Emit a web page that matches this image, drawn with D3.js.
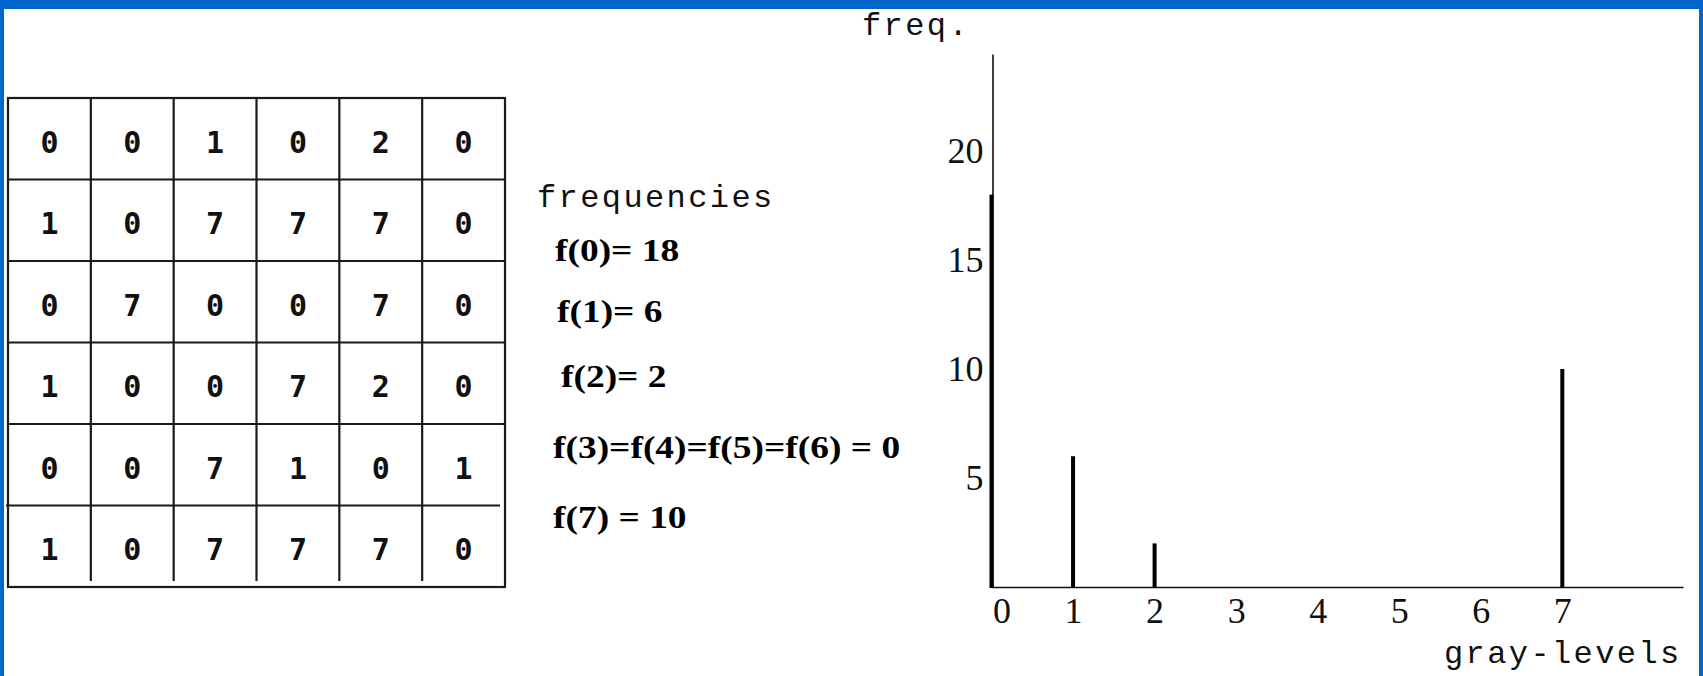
<!DOCTYPE html>
<html>
<head>
<meta charset="utf-8">
<script src="https://cdn.jsdelivr.net/npm/d3@7"></script>
<style>
  html, body { margin: 0; padding: 0; background: #fff; }
  svg { display: block; }
</style>
</head>
<body>
<svg id="slide" width="1703" height="676"></svg>
<script>
// 6x6 image, gray levels 0..7, one array per row
const imageRows = [
  [0, 0, 1, 0, 2, 0],
  [1, 0, 7, 7, 7, 0],
  [0, 7, 0, 0, 7, 0],
  [1, 0, 0, 7, 2, 0],
  [0, 0, 7, 1, 0, 1],
  [1, 0, 7, 7, 7, 0]
];

// histogram of the image
const grayLevels = [0, 1, 2, 3, 4, 5, 6, 7];
const frequencies = [18, 6, 2, 0, 0, 0, 0, 10];
const freqTicks = [5, 10, 15, 20];

const W = 1703, H = 676;
const svg = d3.select("#slide");

// slide frame
const frameBlue = "#0066cc";
svg.append("rect").attr("x", 0).attr("y", 0).attr("width", W).attr("height", H).attr("fill", "#fff");
svg.append("rect").attr("x", 0).attr("y", 0).attr("width", W).attr("height", 9).attr("fill", frameBlue);
svg.append("rect").attr("x", 0).attr("y", 0).attr("width", 4).attr("height", H).attr("fill", frameBlue);
svg.append("rect").attr("x", W - 4).attr("y", 0).attr("width", 4).attr("height", H).attr("fill", frameBlue);

// ---------- pixel grid ----------
const nCols = imageRows[0].length, nRows = imageRows.length;
const gx = d3.scaleBand().domain(d3.range(nCols)).range([8, 505]);
const gy = d3.scaleBand().domain(d3.range(nRows)).range([98, 587]);
const grid = svg.append("g").attr("stroke", "#1a1a1a").attr("stroke-width", 2.2);

// vertical separators
grid.selectAll("line.v").data(d3.range(1, nCols)).join("line")
  .attr("class", "v")
  .attr("x1", d => gx(d)).attr("x2", d => gx(d))
  .attr("y1", gy.range()[0]).attr("y2", gy.range()[1] - 6);
// horizontal separators
grid.selectAll("line.h").data(d3.range(1, nRows)).join("line")
  .attr("class", "h")
  .attr("x1", d => d === nRows - 1 ? 6 : gx.range()[0])
  .attr("x2", d => d === nRows - 1 ? 500 : gx.range()[1])
  .attr("y1", d => gy(d)).attr("y2", d => gy(d));
// outer border
grid.append("rect")
  .attr("x", gx.range()[0]).attr("y", gy.range()[0])
  .attr("width", gx.range()[1] - gx.range()[0])
  .attr("height", gy.range()[1] - gy.range()[0])
  .attr("fill", "none");

const cells = imageRows.flatMap((row, r) => row.map((v, c) => ({ r, c, v })));
svg.append("g").selectAll("text").data(cells).join("text")
  .attr("x", d => gx(d.c) + gx.bandwidth() / 2)
  .attr("y", d => gy(d.r) + gy.bandwidth() / 2 + 14)
  .attr("text-anchor", "middle")
  .attr("font-family", "'DejaVu Sans Mono', monospace")
  .attr("font-weight", "bold")
  .attr("font-size", 30)
  .attr("fill", "#111")
  .text(d => d.v);

// ---------- frequency list ----------
svg.append("text")
  .attr("x", 537).attr("y", 207)
  .attr("font-family", "'Liberation Mono', monospace")
  .attr("font-size", 32)
  .attr("letter-spacing", 2.4)
  .attr("fill", "#111")
  .text("frequencies");

const freqLines = [
  { x: 555, y: 261, text: `f(0)= ${frequencies[0]}` },
  { x: 557, y: 322, text: `f(1)= ${frequencies[1]}` },
  { x: 561, y: 387, text: `f(2)= ${frequencies[2]}` },
  { x: 553, y: 458, text: `f(3)=f(4)=f(5)=f(6) = ${frequencies[3]}` },
  { x: 553, y: 528, text: `f(7) = ${frequencies[7]}` }
];
svg.append("g").selectAll("text").data(freqLines).join("text")
  .attr("transform", d => `translate(${d.x},${d.y}) scale(1.17,1)`)
  .attr("font-family", "'Liberation Serif', 'Times New Roman', serif")
  .attr("font-weight", "bold")
  .attr("font-size", 32)
  .attr("fill", "#000")
  .text(d => d.text);

// ---------- histogram ----------
const x = d3.scaleLinear().domain([0, 8.48]).range([991.5, 1683]);
const y = d3.scaleLinear().domain([0, 24.45]).range([587, 54]);

const serif = "'Liberation Serif', 'Times New Roman', serif";

const yAxis = svg.append("g")
  .attr("transform", `translate(${x(0) + 1},0)`)
  .call(d3.axisLeft(y).tickValues(freqTicks).tickSize(0).tickPadding(9).tickFormat(d3.format("d")));
yAxis.select(".domain").attr("stroke", "#111").attr("stroke-width", 1.6);
yAxis.selectAll("text").attr("font-family", serif).attr("font-size", 36).attr("fill", "#111");

const xAxis = svg.append("g")
  .attr("transform", `translate(0,${y(0)})`)
  .call(d3.axisBottom(x).tickValues(grayLevels).tickSize(0).tickPadding(10).tickFormat(d3.format("d")));
xAxis.select(".domain").attr("stroke", "#111").attr("stroke-width", 1.6);
xAxis.selectAll("text")
  .attr("font-family", serif).attr("font-size", 36).attr("fill", "#111")
  .attr("dx", d => d === 0 ? 10 : 0);

// spikes
svg.append("g").selectAll("rect").data(grayLevels.filter(g => frequencies[g] > 0)).join("rect")
  .attr("x", g => x(g) - 2)
  .attr("y", g => y(frequencies[g]))
  .attr("width", 4)
  .attr("height", g => y(0) - y(frequencies[g]) + 1)
  .attr("fill", "#000");

// axis titles
svg.append("text")
  .attr("x", 862).attr("y", 35)
  .attr("font-family", "'Liberation Mono', monospace")
  .attr("font-size", 32).attr("letter-spacing", 2.4)
  .attr("fill", "#111")
  .text("freq.");
svg.append("text")
  .attr("x", 1444).attr("y", 663)
  .attr("font-family", "'Liberation Mono', monospace")
  .attr("font-size", 32).attr("letter-spacing", 2.4)
  .attr("fill", "#111")
  .text("gray-levels");
</script>
</body>
</html>
